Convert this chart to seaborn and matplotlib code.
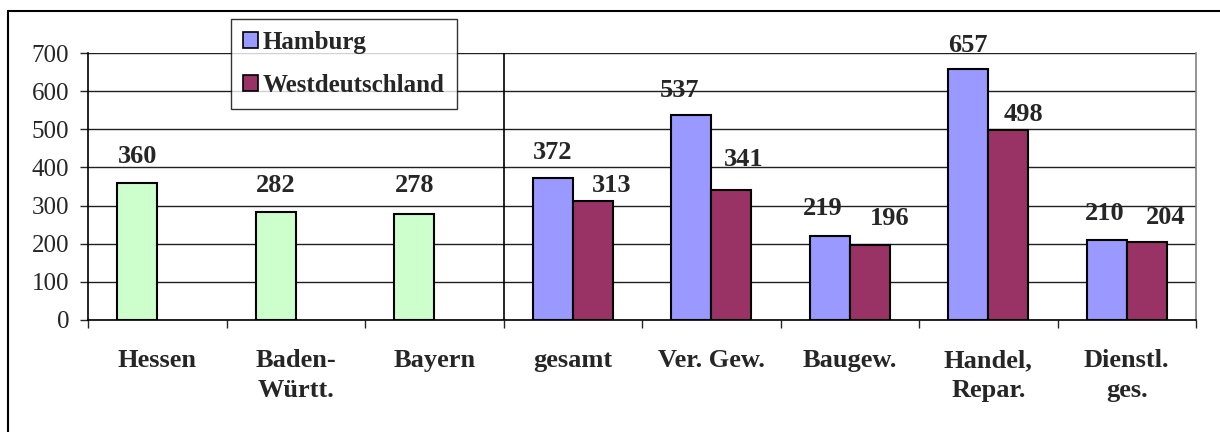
import pandas as pd
import numpy as np
import matplotlib.pyplot as plt
import seaborn as sns
from matplotlib.patches import Patch
from matplotlib.lines import Line2D

# Daten
laender = ['Hessen', 'Baden-\nWürtt.', 'Bayern']
laender_werte = [360, 282, 278]
branchen = ['gesamt', 'Ver. Gew.', 'Baugew.', 'Handel,\nRepar.', 'Dienstl.\nges.']
hamburg = [372, 537, 219, 657, 210]
westdeutschland = [313, 341, 196, 498, 204]

kategorien = laender + branchen

# Verschiebung der Beschriftungen in Pixel (dx, Abstand ueber dem Balken), wie im Original
versatz_a = [(0, 26), (0, 27), (0, 28), (0, 26), (-12, 25), (-7, 28), (0, 24), (-2, 26)]
versatz_b = [(19, 15), (12, 30), (20, 27), (15, 16), (19, 25)]

# Laender sitzen im ersten Balkenplatz (wie Hamburg), der zweite bleibt leer
rows = []
for k, w in zip(laender, laender_werte):
    rows.append({'Kategorie': k, 'Platz': 'a', 'Reihe': 'Land', 'Wert': w})
for k, h, w in zip(branchen, hamburg, westdeutschland):
    rows.append({'Kategorie': k, 'Platz': 'a', 'Reihe': 'Hamburg', 'Wert': h})
    rows.append({'Kategorie': k, 'Platz': 'b', 'Reihe': 'Westdeutschland', 'Wert': w})
df = pd.DataFrame(rows)

farben = {'Land': '#CCFFCC', 'Hamburg': '#9999FF', 'Westdeutschland': '#993366'}

sns.set_theme(style='white')
plt.rcParams['font.family'] = ['Liberation Serif', 'DejaVu Serif']

fig = plt.figure(figsize=(12.2, 4.32), dpi=100)
ax = fig.add_axes([88 / 1220, 1 - 320 / 432, (1196 - 88) / 1220, (320 - 53) / 432])

sns.barplot(data=df, x='Kategorie', y='Wert', hue='Platz', order=kategorien,
            hue_order=['a', 'b'], width=0.58, ax=ax, legend=False,
            edgecolor='black', linewidth=1.5)

# Farben und Werte je Balken
reihen_a = ['Land'] * len(laender) + ['Hamburg'] * len(branchen)
reihen_b = ['Westdeutschland'] * len(branchen)
for cont, reihen, versatz in zip(ax.containers, [reihen_a, reihen_b], [versatz_a, versatz_b]):
    for bar, r, (dx, dy) in zip(cont, reihen, versatz):
        bar.set_facecolor(farben[r])
        bar.set_zorder(3)
        h = bar.get_height()
        ax.annotate(f'{h:.0f}', (bar.get_x() + bar.get_width() / 2, h),
                    xytext=(dx * 0.72, dy * 0.72), textcoords='offset points',
                    ha='center', va='center', fontsize=19, fontweight='bold', zorder=5)

ax.set_ylim(0, 700)
ax.set_xlim(-0.5, len(kategorien) - 0.5)
ax.set_yticks(range(0, 701, 100))
ax.yaxis.grid(True, color='#202020', linewidth=1)
ax.set_axisbelow(True)
ax.set_xlabel('')
ax.set_ylabel('')

ax.tick_params(axis='y', labelsize=18, length=5.5, width=1, pad=8, left=True, direction='out')
ax.set_xticks(range(len(kategorien)))
ax.set_xticklabels(kategorien, fontsize=19, fontweight='bold', linespacing=1.4)
ax.tick_params(axis='x', which='major', length=0, pad=21)
ax.set_xticks(np.arange(-0.5, len(kategorien), 1), minor=True)
ax.tick_params(axis='x', which='minor', length=5.5, width=1, bottom=True, direction='out')

# Trennlinie zwischen Laendern und Branchen
ax.axvline(len(laender) - 0.5, color='black', linewidth=1.2, zorder=2)

ax.spines['top'].set_visible(False)
ax.spines['left'].set_color('black')
ax.spines['bottom'].set_color('black')
ax.spines['right'].set_color('#808080')
for s in ['left', 'bottom', 'right']:
    ax.spines[s].set_linewidth(1.2)

handles = [Patch(facecolor=farben['Hamburg'], edgecolor='black', linewidth=1.2, label='Hamburg'),
           Patch(facecolor=farben['Westdeutschland'], edgecolor='black', linewidth=1.2, label='Westdeutschland')]
leg = fig.legend(handles=handles, loc='upper left', bbox_to_anchor=(231 / 1220, 1 - 19 / 432),
                 prop={'size': 18, 'weight': 'bold'}, frameon=True, fancybox=False,
                 edgecolor='black', handlelength=0.6, handleheight=0.6, handletextpad=0.2,
                 labelspacing=0.8, borderpad=0.48, borderaxespad=0)
leg.get_frame().set_linewidth(1)

# Rahmen um die Grafik
fig.add_artist(Line2D([8 / 1220, 8 / 1220], [0, 1 - 11 / 432], color='black', linewidth=1.5))
fig.add_artist(Line2D([8 / 1220, 1], [1 - 11 / 432, 1 - 11 / 432], color='black', linewidth=1.5))

fig.savefig('out.png', dpi=100)
